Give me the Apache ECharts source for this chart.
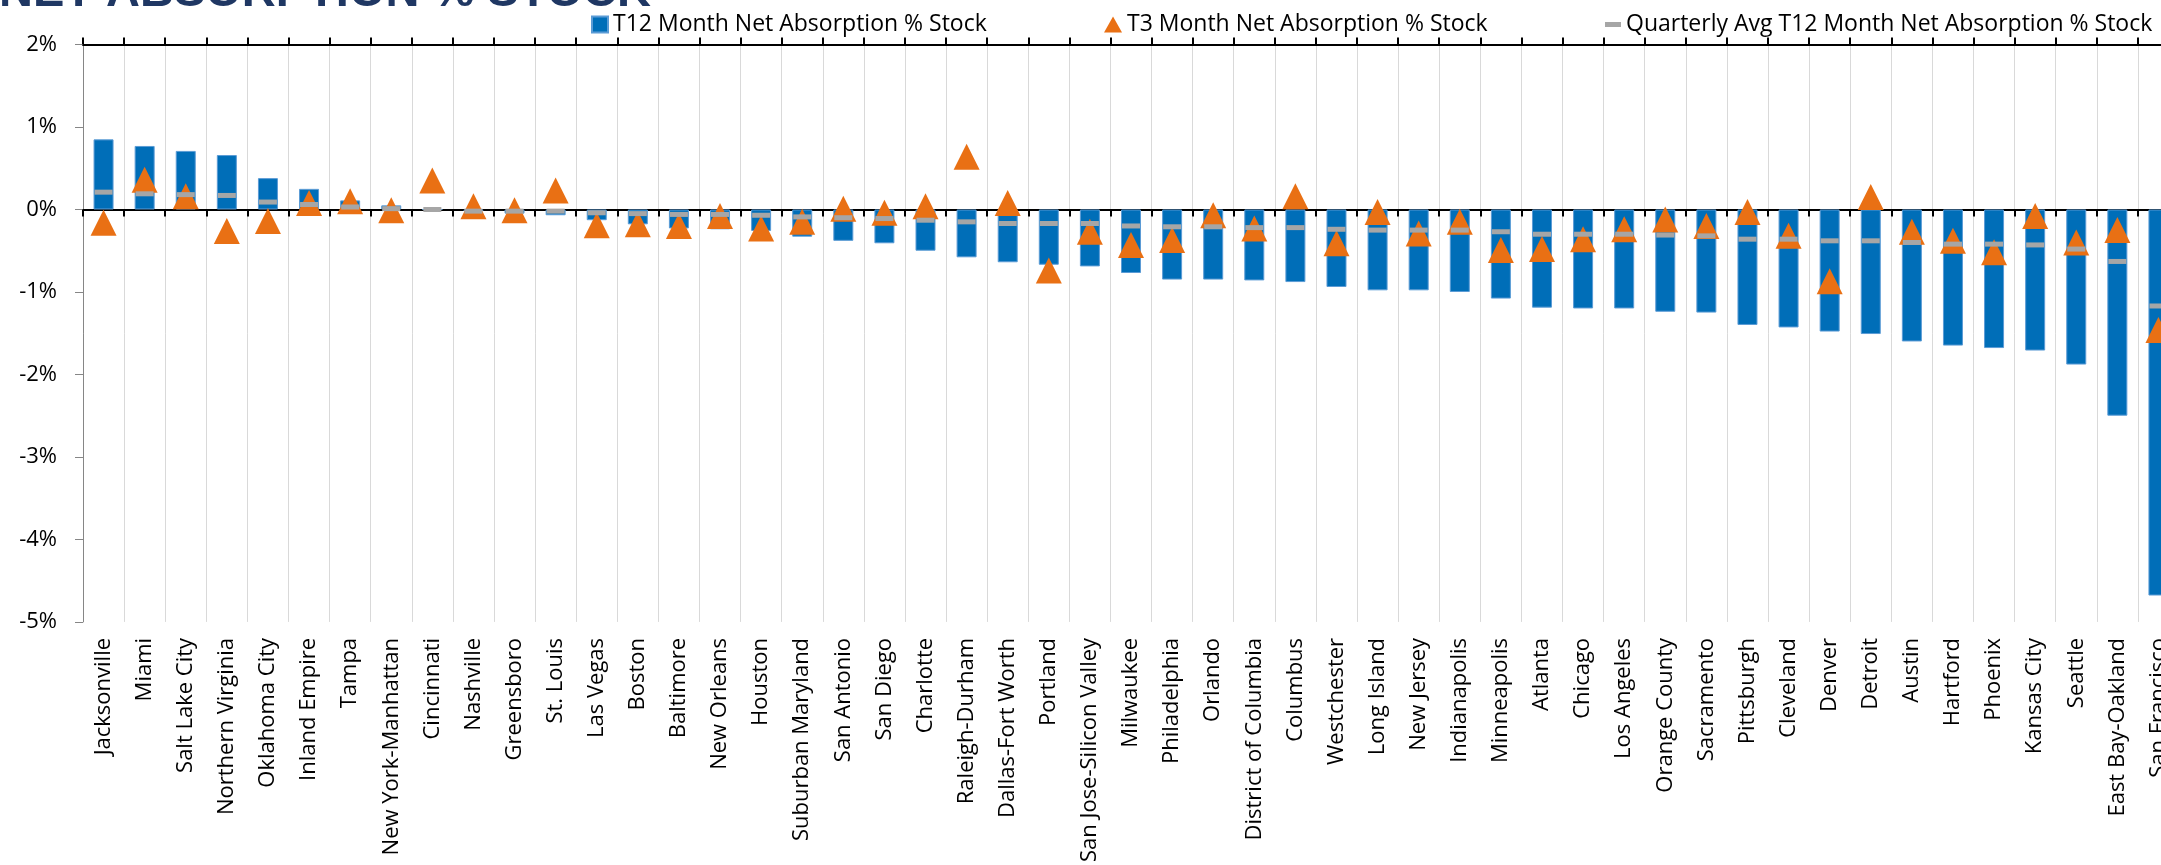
<!DOCTYPE html>
<html>
<head>
<meta charset="utf-8">
<script src="https://cdn.jsdelivr.net/npm/echarts@6/dist/echarts.min.js"></script>
<style>
html,body{margin:0;padding:0;background:#fff;overflow:hidden;width:2161px;height:865px;}
#chart{width:2200px;height:865px;}
</style>
</head>
<body>
<div id="chart"></div>
<script>
const categories = ["Jacksonville","Miami","Salt Lake City","Northern Virginia","Oklahoma City","Inland Empire","Tampa","New York-Manhattan","Cincinnati","Nashville","Greensboro","St. Louis","Las Vegas","Boston","Baltimore","New Orleans","Houston","Suburban Maryland","San Antonio","San Diego","Charlotte","Raleigh-Durham","Dallas-Fort Worth","Portland","San Jose-Silicon Valley","Milwaukee","Philadelphia","Orlando","District of Columbia","Columbus","Westchester","Long Island","New Jersey","Indianapolis","Minneapolis","Atlanta","Chicago","Los Angeles","Orange County","Sacramento","Pittsburgh","Cleveland","Denver","Detroit","Austin","Hartford","Phoenix","Kansas City","Seattle","East Bay-Oakland","San Francisco"];

const t12Values = [0.85,0.77,0.71,0.66,0.38,0.25,0.11,0.05,0.00,-0.02,-0.05,-0.07,-0.13,-0.18,-0.23,-0.24,-0.26,-0.33,-0.38,-0.41,-0.50,-0.58,-0.64,-0.67,-0.69,-0.77,-0.85,-0.85,-0.86,-0.88,-0.94,-0.98,-0.98,-1.00,-1.08,-1.19,-1.20,-1.20,-1.24,-1.25,-1.40,-1.43,-1.48,-1.51,-1.60,-1.65,-1.68,-1.71,-1.88,-2.50,-4.68];

const t3Values = [-0.16,0.36,0.16,-0.26,-0.14,0.08,0.10,-0.01,0.35,0.04,-0.01,0.23,-0.19,-0.18,-0.20,-0.08,-0.23,-0.15,0.01,-0.04,0.04,0.64,0.08,-0.74,-0.27,-0.43,-0.37,-0.07,-0.23,0.16,-0.41,-0.03,-0.29,-0.15,-0.49,-0.48,-0.36,-0.24,-0.12,-0.20,-0.03,-0.32,-0.87,0.15,-0.27,-0.38,-0.52,-0.08,-0.40,-0.25,-1.46];

const quarterlyAvgValues = [0.21,0.19,0.18,0.17,0.09,0.06,0.03,0.01,0.00,-0.02,-0.02,-0.02,-0.04,-0.05,-0.06,-0.06,-0.07,-0.09,-0.10,-0.11,-0.13,-0.15,-0.17,-0.17,-0.17,-0.20,-0.21,-0.21,-0.22,-0.22,-0.24,-0.25,-0.25,-0.25,-0.27,-0.30,-0.30,-0.30,-0.31,-0.32,-0.36,-0.36,-0.38,-0.38,-0.40,-0.42,-0.42,-0.43,-0.48,-0.63,-1.17];

const yMin = -5, yMax = 2, yStep = 1;
const seriesNames = ["T12 Month Net Absorption % Stock","T3 Month Net Absorption % Stock","Quarterly Avg T12 Month Net Absorption % Stock"];
const titleText = "NET ABSORPTION % STOCK";

const chart = echarts.init(document.getElementById('chart'), null, {renderer:'canvas'});
const legendText = {fontFamily:'Open Sans', fontSize:23, color:'#000'};
const option = {
  animation:false,
  backgroundColor:'#fff',
  title:{text:titleText, left:-6, top:-35, textStyle:{fontFamily:'Liberation Sans', fontWeight:'bold', fontSize:47, color:'#1F3763'}},
  legend:[
    {left:586, top:8, itemWidth:16, itemHeight:16, itemGap:5, data:[{name:seriesNames[0], icon:'rect'}], textStyle:legendText, selectedMode:false},
    {left:1099, top:8, itemWidth:18, itemHeight:16, data:[{name:seriesNames[1], icon:'triangle'}], textStyle:legendText, selectedMode:false},
    {left:1600, top:8, itemWidth:16, itemHeight:5, data:[{name:seriesNames[2], icon:'rect'}], textStyle:legendText, selectedMode:false}
  ],
  grid:{left:83, top:44.5, width:2096, height:579, containLabel:false},
  xAxis:[
    {type:'category', data:categories, position:'bottom', boundaryGap:true,
     axisLine:{show:false, onZero:false}, axisTick:{show:false},
     axisLabel:{interval:0, rotate:90, margin:16, fontFamily:'Open Sans', fontSize:22, color:'#000'},
     splitLine:{show:true, interval:0, lineStyle:{color:'#D9D9D9', width:1}}},
    {type:'category', data:categories, position:'bottom', boundaryGap:true,
     axisLine:{show:true, onZero:true, lineStyle:{color:'#000', width:2}},
     axisTick:{show:true, interval:0, length:7, lineStyle:{color:'#000', width:2}},
     axisLabel:{show:false}, splitLine:{show:false}},
    {type:'category', data:categories, position:'top', boundaryGap:true,
     axisLine:{show:true, onZero:true, lineStyle:{color:'#000', width:2}},
     axisTick:{show:true, interval:0, length:7, lineStyle:{color:'#000', width:2}},
     axisLabel:{show:false}, splitLine:{show:false}}
  ],
  yAxis:{type:'value', min:yMin, max:yMax, interval:yStep,
    axisLine:{show:true, onZero:false, lineStyle:{color:'#868686', width:1}},
    axisTick:{show:true, length:8, lineStyle:{color:'#868686'}},
    axisLabel:{formatter:'{value}%', margin:26, fontFamily:'Open Sans', fontSize:22, color:'#000'},
    splitLine:{show:false}},
  series:[
    {name:seriesNames[0], type:'bar', data:t12Values, barWidth:20, z:2,
     itemStyle:{color:'#006EB8', borderColor:'#5B9BD5', borderWidth:1}},
    {name:seriesNames[1], type:'scatter', data:t3Values, symbol:'triangle', symbolSize:[26,26], z:3,
     itemStyle:{color:'#E97014', opacity:1}},
    {name:seriesNames[2], type:'scatter', data:quarterlyAvgValues, symbol:'rect', symbolSize:[18,5], z:4,
     itemStyle:{color:'#A6A6A6', opacity:1}}
  ]
};
chart.setOption(option);
</script>
</body>
</html>
